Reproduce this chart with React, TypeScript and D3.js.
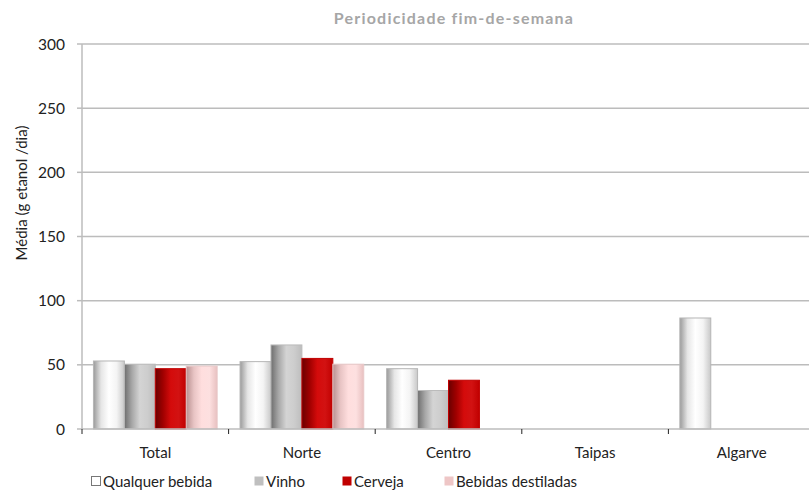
import React from "react";
import * as d3 from "d3";

const categories = ["Total", "Norte", "Centro", "Taipas", "Algarve"];
const seriesNames = ["Qualquer bebida", "Vinho", "Cerveja", "Bebidas destiladas"];
const qualquer: (number | null)[] = [53, 52.5, 47, null, 86.5];
const vinho: (number | null)[] = [50.5, 65.5, 30, null, null];
const cerveja: (number | null)[] = [47, 55, 38, null, null];
const destiladas: (number | null)[] = [49, 50.5, null, null, null];
const yTicks = [0, 50, 100, 150, 200, 250, 300];

const seriesValues = [qualquer, vinho, cerveja, destiladas];
const gradients = [
  { id: "g0", stops: ["#9a9a9a", "#e6e6e6", "#ffffff", "#f4f4f4", "#c8c8c8"], stroke: "#b5b5b5", legend: "#ffffff" },
  { id: "g1", stops: ["#6e6e6e", "#a8a8a8", "#d4d4d4", "#cdcdcd", "#bdbdbd"], stroke: "#bbbbbb", legend: "#bfbfbf" },
  { id: "g2", stops: ["#6a0000", "#a00000", "#d40b0b", "#d21212", "#c00000"], stroke: "#c00000", legend: "#c00000" },
  { id: "g3", stops: ["#b89090", "#e8c4c4", "#ffdede", "#fde0e0", "#e8c0c0"], stroke: "#e8c8c8", legend: "#eec6c6" },
];

export default function App() {
  const width = 809, height = 497;
  const x0 = 82, x1 = 815;
  const y = d3.scaleLinear().domain([0, 300]).range([429, 44]);
  const xBand = d3.scaleBand().domain(categories).range([x0, x1]).paddingInner(0).paddingOuter(0);
  const bw = xBand.bandwidth();
  const inner = d3.scaleBand().domain(seriesNames).range([0, bw]).paddingInner(0).paddingOuter(0.37);
  const font = "'Lato', 'Open Sans', sans-serif";
  const legendX = [91, 254, 342, 444];

  return (
    <svg width={width} height={height} style={{ position: "absolute", left: 0, top: 0, background: "#fff" }}>
      <defs>
        {gradients.map((g) => (
          <linearGradient key={g.id} id={g.id} x1="0" x2="1" y1="0" y2="0">
            {g.stops.map((c, i) => (
              <stop key={i} offset={`${(i / (g.stops.length - 1)) * 100}%`} stopColor={c} />
            ))}
          </linearGradient>
        ))}
      </defs>
      <text x={454} y={24} textAnchor="middle" fontFamily={font} fontWeight="bold" fontSize={16} fill="#a6a6a6" letterSpacing={1.2}>
        Periodicidade  fim-de-semana
      </text>
      {yTicks.map((t) => (
        <g key={t}>
          {t > 0 && <line x1={x0} x2={width} y1={y(t)} y2={y(t)} stroke="#bcbcbc" strokeWidth={1.5} />}
          <line x1={x0 - 5} x2={x0} y1={y(t)} y2={y(t)} stroke="#bcbcbc" strokeWidth={1.5} />
          <text x={65} y={y(t) + 5.5} textAnchor="end" fontFamily={font} fontSize={15.5} fill="#222">{t}</text>
        </g>
      ))}
      <line x1={x0} x2={x0} y1={y(300)} y2={y(0)} stroke="#bcbcbc" strokeWidth={1.5} />
      <text transform={`translate(27,193) rotate(-90)`} textAnchor="middle" fontFamily={font} fontSize={15} fill="#222">
        Média (g etanol /dia)
      </text>
      {seriesValues.map((vals, si) =>
        vals.map((v, ci) =>
          v == null ? null : (
            <rect
              key={`${si}-${ci}`}
              x={(xBand(categories[ci]) as number) + (inner(seriesNames[si]) as number)}
              y={y(v)}
              width={inner.bandwidth()}
              height={y(0) - y(v)}
              fill={`url(#${gradients[si].id})`}
              stroke={gradients[si].stroke}
              strokeWidth={1}
            />
          )
        )
      )}
      <line x1={x0} x2={width} y1={y(0)} y2={y(0)} stroke="#bcbcbc" strokeWidth={1.5} />
      {categories.map((c, i) => (
        <g key={c}>
          <line x1={xBand(c) as number} x2={xBand(c) as number} y1={y(0)} y2={y(0) + 5} stroke="#222" strokeWidth={1} />
          <text x={(xBand(c) as number) + bw / 2} y={458} textAnchor="middle" fontFamily={font} fontSize={15} fill="#222">{c}</text>
        </g>
      ))}
      {seriesNames.map((s, i) => (
        <g key={s}>
          <rect x={legendX[i] + 0.5} y={476.5} width={9} height={9} fill={gradients[i].legend} stroke={i === 0 ? "#777" : "none"} strokeWidth={1} />
          <text x={legendX[i] + 12} y={486.5} fontFamily={font} fontSize={15} fill="#222">{s}</text>
        </g>
      ))}
    </svg>
  );
}
